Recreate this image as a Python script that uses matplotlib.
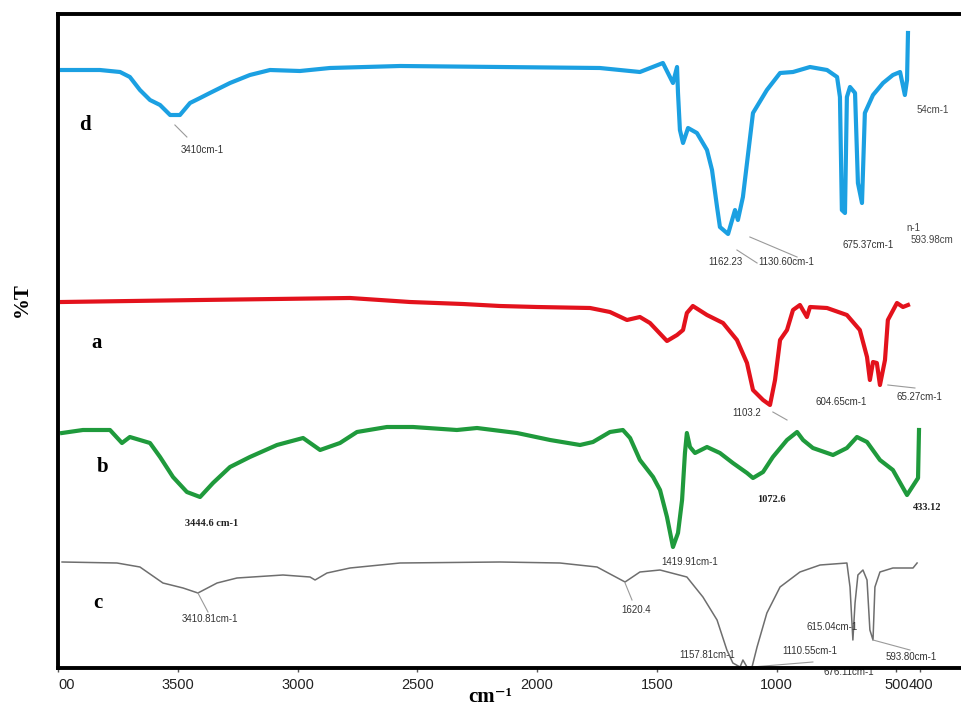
import matplotlib
matplotlib.use("Agg")
import matplotlib.pyplot as plt

# FTIR spectra, stacked (arbitrary %T offsets)
wn_d = [3983, 3825, 3741, 3700, 3658, 3616, 3574, 3532, 3491, 3449, 3407, 3366,
        3282, 3199, 3115, 2990, 2865, 2572, 2155, 1738, 1571, 1475, 1433, 1416,
        1412, 1404, 1391, 1370, 1333, 1291, 1270, 1249, 1237, 1203, 1174, 1162,
        1141, 1124, 1099, 1041, 986, 932, 861, 790, 748, 736, 728, 715, 707, 694,
        673, 661, 644, 632, 598, 556, 515, 485, 465, 456, 452]
t_d = [598, 598, 596, 591, 578, 568, 563, 553, 553, 565, 570, 575,
       585, 593, 598, 597, 600, 602, 601, 600, 596, 605, 585, 601,
       575, 538, 525, 540, 535, 518, 498, 461, 441, 434, 458, 448,
       471, 505, 555, 578, 595, 596, 601, 598, 591, 571, 458, 455, 571, 581,
       575, 485, 465, 555, 573, 585, 593, 596, 573, 588, 635]

wn_a = [3983, 3407, 2781, 2531, 2310, 2155, 2001, 1779, 1696, 1625, 1571, 1529,
        1458, 1416, 1391, 1375, 1350, 1291, 1224, 1166, 1124, 1099, 1057, 1028,
        1007, 986, 957, 932, 903, 874, 861, 790, 707, 653, 623, 611, 598, 582,
        569, 548, 536, 498, 473, 452]
t_a = [366, 368, 370, 366, 364, 362, 361, 360, 356, 348, 351, 345,
       327, 333, 338, 355, 362, 353, 345, 328, 305, 278, 268, 263,
       288, 328, 338, 358, 363, 351, 361, 360, 353, 338, 311, 288, 306, 305,
       283, 308, 348, 365, 361, 363]

wn_b = [3983, 3896, 3783, 3733, 3700, 3616, 3574, 3520, 3462, 3407, 3353, 3282,
        3199, 3086, 2977, 2906, 2823, 2752, 2627, 2518, 2335, 2251, 2084, 1946,
        1821, 1767, 1696, 1642, 1612, 1571, 1516, 1487, 1458, 1433, 1412, 1395,
        1383, 1375, 1362, 1341, 1291, 1237, 1183, 1124, 1099, 1057, 1016, 957,
        915, 890, 849, 765, 707, 665, 623, 569, 515, 456, 410, 406]
t_b = [235, 238, 238, 225, 231, 225, 211, 191, 176, 171, 185, 201,
       211, 223, 230, 218, 225, 236, 241, 241, 238, 240, 235, 228,
       223, 226, 236, 238, 230, 208, 191, 178, 151, 121, 135, 168,
       215, 235, 221, 215, 221, 215, 205, 195, 190, 196, 211, 228,
       236, 228, 220, 213, 220, 231, 226, 208, 198, 173, 190, 238]

wn_c = [3983, 3754, 3658, 3562, 3478, 3416, 3336, 3253, 3061, 2948, 2927, 2877,
        2781, 2572, 2155, 1905, 1750, 1633, 1571, 1487, 1375, 1308, 1249, 1208,
        1183, 1153, 1141, 1124, 1103, 1082, 1041, 986, 903, 819, 707, 694, 682,
        673, 661, 640, 623, 611, 598, 590, 569, 515, 431, 414]
t_c = [106, 105, 101, 85, 80, 75, 85, 90, 93, 91, 88, 95,
       100, 105, 106, 105, 101, 86, 96, 98, 91, 71, 48, 18,
       5, 1, 8, 1, 1, 21, 55, 81, 96, 103, 105, 81, 28,
       65, 93, 98, 88, 38, 28, 81, 96, 100, 100, 105]

tick_pos = [4000, 3500, 3000, 2500, 2000, 1500, 1000, 500, 400]
tick_lbl = ["00", "3500", "3000", "2500", "2000", "1500", "1000", "500", "400"]

# (text, wavenumber, %T, colour, family)
peak_labels = [
    ("3410cm-1", 3399, 518, "#333333", "sans"),
    ("54cm-1", 348, 558, "#444444", "sans"),
    ("n-1", 431, 440, "#444444", "sans"),
    ("593.98cm", 352, 428, "#444444", "sans"),
    ("675.37cm-1", 619, 423, "#333333", "sans"),
    ("1162.23", 1216, 406, "#333333", "sans"),
    ("1130.60cm-1", 961, 406, "#333333", "sans"),
    ("1103.2", 1124, 255, "#333333", "sans"),
    ("604.65cm-1", 732, 266, "#333333", "sans"),
    ("65.27cm-1", 406, 271, "#333333", "sans"),
    ("3444.6 cm-1", 3357, 145, "#222222", "serif"),
    ("1419.91cm-1", 1362, 106, "#333333", "sans"),
    ("1072.6", 1024, 168, "#222222", "serif"),
    ("433.12", 373, 160, "#222222", "serif"),
    ("3410.81cm-1", 3366, 49, "#333333", "sans"),
    ("1620.4", 1587, 58, "#333333", "sans"),
    ("1157.81cm-1", 1291, 13, "#333333", "sans"),
    ("1110.55cm-1", 861, 17, "#333333", "sans"),
    ("615.04cm-1", 769, 41, "#333333", "sans"),
    ("593.80cm-1", 440, 11, "#333333", "sans"),
]

# leader lines: (x0, y0, x1, y1)
leaders = [
    (3512, 543, 3462, 531),
    (1166, 418, 1082, 405),
    (1112, 431, 915, 411),
    (1016, 256, 957, 248),
    (536, 283, 423, 280),
    (3416, 75, 3374, 56),
    (1633, 85, 1604, 68),
    (1103, 1, 849, 6),
    (598, 28, 444, 18),
]

sample_tags = [("d", 3887, 543), ("a", 3837, 325), ("b", 3812, 201), ("c", 3833, 65)]

fig = plt.figure(figsize=(9.61, 7.10), dpi=100)
ax = fig.add_axes([58 / 961, 42 / 710, 907 / 961, 654 / 710])

ax.plot(wn_d, t_d, color="#1ba0e2", lw=3.0, solid_joinstyle="round")
ax.plot(wn_a, t_a, color="#e3121c", lw=3.0, solid_joinstyle="round")
ax.plot(wn_b, t_b, color="#1f9a3c", lw=3.0, solid_joinstyle="round")
ax.plot(wn_c, t_c, color="#6e6e6e", lw=1.1)

for x0, y0, x1, y1 in leaders:
    ax.plot([x0, x1], [y0, y1], color="#9a9a9a", lw=0.8)

for txt, x, y, col, fam in peak_labels:
    if fam == "serif":
        ax.text(x, y, txt, ha="center", va="center", fontsize=7.5,
                color=col, family="Liberation Serif", fontweight="bold")
    else:
        ax.text(x, y, txt, ha="center", va="center", fontsize=7,
                color=col, family="Liberation Sans")

# partly hidden under the bottom spine
ax.text(698, -4, "676.11cm-1", ha="center", va="center", fontsize=7,
        color="#333333", family="Liberation Sans", zorder=1, clip_on=False)

for tag, x, y in sample_tags:
    ax.text(x, y, tag, ha="center", va="center", fontsize=15,
            family="Liberation Serif", fontweight="bold")

ax.set_xlim(4000, 214)
ax.set_ylim(0, 654)
ax.set_yticks([])
ax.set_xticks(tick_pos)
ax.set_xticklabels(tick_lbl, family="Liberation Sans", fontsize=10.5,
                   color="#222222")
ax.get_xticklabels()[0].set_ha("left")
ax.tick_params(axis="x", length=3, width=1, pad=4, color="#555555")

for side in ["left", "bottom", "top", "right"]:
    ax.spines[side].set_linewidth(2.8)

fig.text(490 / 961, 1 - 697 / 710, "cm\u207b\u00b9", ha="center", va="center",
         fontsize=15, family=["Liberation Serif", "DejaVu Serif"],
         fontweight="bold")
fig.text(22 / 961, 1 - 300 / 710, "%T", ha="center", va="center", rotation=90,
         fontsize=15, family="Liberation Serif", fontweight="bold")

fig.savefig("out.png", dpi=100)
